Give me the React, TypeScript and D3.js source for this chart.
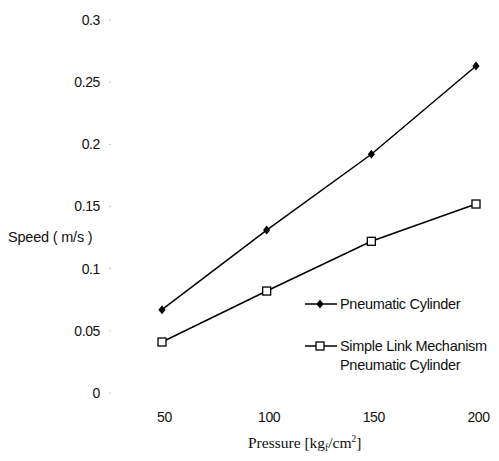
import React from "react";
import * as d3 from "d3";

const pressures = [50, 100, 150, 200];
const pneumatic = [0.067, 0.131, 0.192, 0.263];
const simpleLink = [0.041, 0.082, 0.122, 0.152];
const yTicks = [0, 0.05, 0.1, 0.15, 0.2, 0.25, 0.3];
const yTickLabels = ["0", "0.05", "0.1", "0.15", "0.2", "0.25", "0.3"];
const xTicks = [50, 100, 150, 200];
const seriesNames = ["Pneumatic Cylinder", "Simple Link Mechanism", "Pneumatic Cylinder"];

const W = 499;
const H = 461;

export default function App() {
  const x = d3.scaleLinear().domain([50, 200]).range([162, 476]);
  const y = d3.scaleLinear().domain([0, 0.3]).range([393, 20]);
  const line = d3
    .line<[number, number]>()
    .x((d) => x(d[0]))
    .y((d) => y(d[1]));
  const p1 = pressures.map((p, i) => [p, pneumatic[i]] as [number, number]);
  const p2 = pressures.map((p, i) => [p, simpleLink[i]] as [number, number]);
  const sans = "'Liberation Sans', Arial, sans-serif";
  const diamond = (cx: number, cy: number, k: string) => (
    <path key={k} d={`M${cx},${cy - 4.5}L${cx + 3.6},${cy}L${cx},${cy + 4.5}L${cx - 3.6},${cy}Z`} fill="#000" />
  );
  const square = (cx: number, cy: number, k: string) => (
    <rect key={k} x={cx - 4} y={cy - 4} width={8} height={8} fill="#fff" stroke="#000" strokeWidth={1.3} />
  );
  return (
    <svg width={W} height={H} style={{ position: "absolute", left: 0, top: 0, background: "#fff" }}>
      <rect width={W} height={H} fill="#fff" />
      {yTicks.map((t, i) => (
        <g key={"yt" + i}>
          <text x={100} y={y(t)} dy="0.35em" textAnchor="end" fontFamily={sans} fontSize={14} letterSpacing={-0.4} fill="#111">
            {yTickLabels[i]}
          </text>
          <line x1={109} x2={111} y1={y(t)} y2={y(t)} stroke="#ccc" strokeWidth={1} />
        </g>
      ))}
      {xTicks.map((t, i) => (
        <text key={"xt" + i} x={x(t) + 2.5} y={417} dy="0.35em" textAnchor="middle" fontFamily={sans} fontSize={14} letterSpacing={-0.4} fill="#111">
          {t}
        </text>
      ))}
      <text x={8} y={237} dy="0.35em" fontFamily={sans} fontSize={14.5} letterSpacing={-0.2} fill="#111">
        Speed ( m/s )
      </text>
      <text x={248} y={443} dy="0.35em" fontFamily="'Liberation Serif', 'Times New Roman', serif" fontSize={15.5} fill="#111">
        {"Pressure  [kg"}<tspan fontSize={9.5} dy="3">f</tspan>
        <tspan dy="-3">/cm</tspan>
        <tspan fontSize={9.5} dy="-6">2</tspan>
        <tspan dy="6">]</tspan>
      </text>
      <path d={line(p1) || ""} fill="none" stroke="#000" strokeWidth={1.5} />
      <path d={line(p2) || ""} fill="none" stroke="#000" strokeWidth={1.5} />
      {p1.map((d, i) => diamond(x(d[0]), y(d[1]), "d" + i))}
      {p2.map((d, i) => square(x(d[0]), y(d[1]), "s" + i))}
      <line x1={305} x2={337} y1={304} y2={304} stroke="#000" strokeWidth={1.5} />
      {diamond(320, 304, "ld")}
      <text x={340} y={304} dy="0.35em" fontFamily={sans} fontSize={14.5} letterSpacing={-0.3} fill="#111">
        {seriesNames[0]}
      </text>
      <line x1={305} x2={337} y1={346} y2={346} stroke="#000" strokeWidth={1.5} />
      {square(320, 346, "ls")}
      <text x={340} y={346} dy="0.35em" fontFamily={sans} fontSize={14.5} letterSpacing={-0.3} fill="#111">
        {seriesNames[1]}
      </text>
      <text x={340} y={365} dy="0.35em" fontFamily={sans} fontSize={14.5} letterSpacing={-0.3} fill="#111">
        {seriesNames[2]}
      </text>
    </svg>
  );
}
